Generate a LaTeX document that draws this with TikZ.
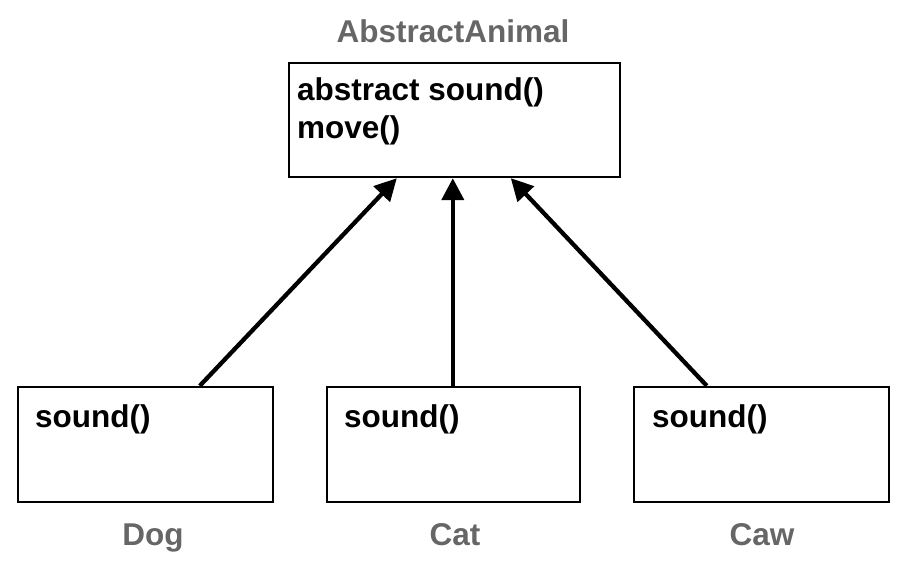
\documentclass[tikz,border=0pt]{standalone}
\usepackage{fontspec}
\setmainfont{Liberation Sans}
\usetikzlibrary{arrows.meta,calc}
\definecolor{labelgray}{HTML}{666666}
\begin{document}
\begin{tikzpicture}[x=1pt,y=-1pt,
  box/.style={draw=black,line width=2.4pt,fill=white,rectangle,inner sep=0pt},
  member/.style={anchor=base west,inner sep=0pt,font=\fontsize{31.5}{37}\selectfont\bfseries},
  classname/.style={anchor=base,text=labelgray,inner sep=0pt,font=\fontsize{31.5}{37}\selectfont\bfseries},
  arr/.style={line width=4.3pt,-{Triangle[length=22pt,width=22pt]}}]
\useasboundingbox (0,0) rectangle (913,576);
% top class
\node[box,minimum width=331pt,minimum height=114pt] (top) at (454.5,120) {};
\node[classname] (toptitle) at (453,42) {AbstractAnimal};
\node[member] (m1) at (297,100) {abstract sound()};
\node[member] (m2) at (297,138) {move()};
% subclasses
\node[box,minimum width=255pt,minimum height=115pt] (dog) at (145.5,444.5) {};
\node[box,minimum width=253pt,minimum height=115pt] (cat) at (453.5,444.5) {};
\node[box,minimum width=255pt,minimum height=115pt] (caw) at (761.5,444.5) {};
\node[member] (dogm) at (35,427) {sound()};
\node[member] (catm) at (344,427) {sound()};
\node[member] (cawm) at (652,427) {sound()};
\node[classname] (dogl) at (153,545) {Dog};
\node[classname] (catl) at (455,545) {Cat};
\node[classname] (cawl) at (762,545) {Caw};
% arrows
\draw[arr] ($(dog.north west)+(183,0)$) -- ($(top.south west)+(109,0)$);
\draw[arr] ($(cat.north west)+(127,0)$) -- ($(top.south west)+(165,0)$);
\draw[arr] ($(caw.north west)+(74,0)$) -- ($(top.south west)+(223,0)$);
\end{tikzpicture}
\end{document}
